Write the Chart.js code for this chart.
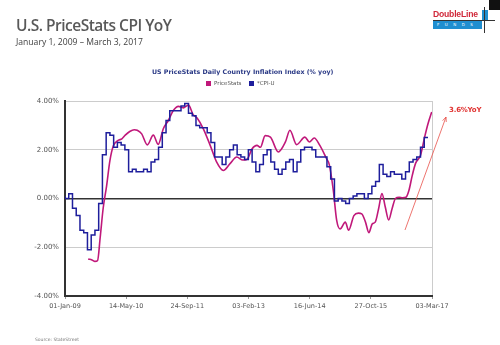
<!DOCTYPE html>
<html>
<head>
<meta charset="utf-8">
<script src="https://cdn.jsdelivr.net/npm/chart.js@4/dist/chart.umd.min.js"></script>
<style>
  body { margin: 0; background: #fff; }
  #wrap { position: relative; width: 500px; height: 345px; overflow: hidden; }
  #c { position: absolute; left: 0; top: 0; }
  .t { position: absolute; white-space: nowrap; }
</style>
</head>
<body>
<div id="wrap">
  <canvas id="c" width="500" height="345"></canvas>
  <div class="t" style="left:16px;top:14px;font:600 15.5px 'Open Sans';color:#595959;letter-spacing:-0.5px">U.S. PriceStats CPI YoY</div>
  <div class="t" style="left:16px;top:36px;font:8.6px 'Open Sans';color:#404040">January 1, 2009 – March 3, 2017</div>
  <div class="t" style="left:152px;top:68px;font:bold 6.3px 'DejaVu Sans';color:#2b3a86">US PriceStats Daily Country Inflation Index (% yoy)</div>
  <div class="t" style="left:206px;top:81px;width:5px;height:5px;background:#c0187a"></div>
  <div class="t" style="left:214px;top:80px;font:5.5px 'DejaVu Sans';color:#555">PriceStats</div>
  <div class="t" style="left:249px;top:81px;width:5px;height:5px;background:#1e1e9c"></div>
  <div class="t" style="left:257px;top:80px;font:5.5px 'DejaVu Sans';color:#555">*CPI-U</div>
  <div class="t" style="left:449px;top:106px;font:bold 7px 'DejaVu Sans';color:#e0312f;letter-spacing:-0.2px">3.6%YoY</div>
  <div class="t" style="left:35px;top:337px;font:4.5px 'DejaVu Sans';color:#777">Source: StateStreet</div>
  <!-- logo -->
  <div class="t" style="left:433px;top:9px;font:bold 8.6px 'Liberation Sans';color:#d0283a;letter-spacing:-0.2px">DoubleLine</div>
  <div class="t" style="left:433px;top:21px;width:49px;height:8px;background:#1f8ed0"></div>
  <div class="t" style="left:437px;top:22px;font:4px 'DejaVu Sans';color:#fff;letter-spacing:5.5px">FUNDS</div>
  <div class="t" style="left:482px;top:10px;width:6px;height:10px;background:#1f8ed0"></div>
  <div class="t" style="left:484px;top:7px;width:1px;height:26px;background:#333"></div>
  <div class="t" style="left:433px;top:20px;width:62px;height:1px;background:#333"></div>
  <div class="t" style="left:489px;top:0px;width:11px;height:10px;background:#111"></div>
</div>
<script>
// x unit: months since 01-Jan-09
const xTickLabels = ["01-Jan-09", "14-May-10", "24-Sep-11", "03-Feb-13", "16-Jun-14", "27-Oct-15", "03-Mar-17"];
const xMax = 98.07;

// CPI-U yoy, monthly Dec-08 .. Jan-17
const cpiValues = [
  0.1,
  0.0, 0.2, -0.4, -0.7, -1.3, -1.4, -2.1, -1.5, -1.3, -0.2, 1.8, 2.7,
  2.6, 2.1, 2.3, 2.2, 2.0, 1.1, 1.2, 1.1, 1.1, 1.2, 1.1, 1.5,
  1.6, 2.1, 2.7, 3.2, 3.6, 3.6, 3.6, 3.8, 3.9, 3.5, 3.4, 3.0,
  2.9, 2.9, 2.7, 2.3, 1.7, 1.7, 1.4, 1.7, 2.0, 2.2, 1.8, 1.7,
  1.6, 2.0, 1.5, 1.1, 1.4, 1.8, 2.0, 1.5, 1.2, 1.0, 1.2, 1.5,
  1.6, 1.1, 1.5, 2.0, 2.1, 2.1, 2.0, 1.7, 1.7, 1.7, 1.3, 0.8,
  -0.1, 0.0, -0.1, -0.2, 0.0, 0.1, 0.2, 0.2, 0.0, 0.2, 0.5, 0.7,
  1.4, 1.0, 0.9, 1.1, 1.0, 1.0, 0.8, 1.1, 1.5, 1.6, 1.7, 2.1,
  2.5
];

// PriceStats daily index
const psX = [6.2, 7.2, 8.0, 8.7, 9.4, 10.2, 11.1, 12.0, 12.9, 14.2, 15.2, 16.1, 17.3, 18.5, 19.3, 20.5, 22.0, 23.6, 24.9, 26.3,
  27.6, 28.9, 30.3, 31.6, 33.0, 34.2, 35.3, 37.0, 38.8, 40.5, 42.3, 44.1, 45.9, 47.5, 48.6, 50.0, 51.3, 52.2, 53.5, 54.9,
  57.0, 58.9, 60.1, 61.9, 64.1, 65.3, 66.6, 68.1, 69.9, 70.6, 71.7, 72.6, 73.5, 74.9, 75.8, 77.2, 78.4, 79.3, 80.3, 81.2,
  82.1, 82.9, 83.8, 84.7, 85.6, 86.5, 87.4, 88.3, 89.3, 90.2, 91.1, 91.9, 92.8, 93.7, 95.0, 96.1, 97.0, 98.0];
const psY = [-2.48, -2.52, -2.58, -2.55, -1.6, -0.4, 0.5, 1.55, 2.15, 2.38, 2.45, 2.6, 2.75, 2.82, 2.8, 2.65, 2.2, 2.6, 2.22, 2.87,
  3.2, 3.6, 3.78, 3.72, 3.83, 3.45, 3.3, 2.85, 2.18, 1.5, 1.15, 1.43, 1.7, 1.58, 1.6, 2.04, 2.18, 2.1, 2.58, 2.52,
  1.91, 2.32, 2.8, 2.21, 2.52, 2.32, 2.48, 2.18, 1.63, 1.4, 0.33, -0.9, -1.25, -0.97, -1.3, -0.7, -0.6, -0.63, -0.97, -1.4,
  -1.04, -0.97, -0.42, 0.2, -0.36, -0.88, -0.42, 0.0, 0.05, 0.03, 0.05, 0.33, 0.95, 1.45, 1.77, 2.52, 3.07, 3.55];

const yTicks = [-4, -2, 0, 2, 4];

const arrowPlugin = {
  id: "arrow",
  afterDraw(chart) {
    const ctx = chart.ctx;
    const x0 = 405, y0 = 230, x1 = 446, y1 = 117;
    ctx.save();
    ctx.strokeStyle = "#e8504a";
    ctx.lineWidth = 0.8;
    ctx.beginPath();
    ctx.moveTo(x0, y0);
    ctx.lineTo(x1, y1);
    ctx.stroke();
    const a = Math.atan2(y1 - y0, x1 - x0);
    ctx.beginPath();
    ctx.moveTo(x1, y1);
    ctx.lineTo(x1 - 5 * Math.cos(a - 0.4), y1 - 5 * Math.sin(a - 0.4));
    ctx.moveTo(x1, y1);
    ctx.lineTo(x1 - 5 * Math.cos(a + 0.4), y1 - 5 * Math.sin(a + 0.4));
    ctx.stroke();
    ctx.restore();
  }
};

new Chart(document.getElementById("c"), {
  type: "line",
  data: {
    datasets: [
      {
        label: "*CPI-U",
        data: cpiValues.map((v, i) => ({ x: i, y: v })),
        borderColor: "#1e1e9c",
        borderWidth: 1.5,
        stepped: "after",
        pointRadius: 0,
        fill: false,
      },
      {
        label: "PriceStats",
        data: psX.map((x, i) => ({ x: x, y: psY[i] })),
        borderColor: "#c0187a",
        borderWidth: 1.6,
        tension: 0.4,
        cubicInterpolationMode: "monotone",
        pointRadius: 0,
        fill: false,
      },
    ],
  },
  options: {
    responsive: false,
    animation: false,
    layout: { padding: { left: 0, top: 101, right: 68, bottom: 0 } },
    plugins: { legend: { display: false }, tooltip: { enabled: false } },
    scales: {
      x: {
        type: "linear",
        min: 0,
        max: xMax,
        afterBuildTicks: (s) => { s.ticks = xTickLabels.map((l, i) => ({ value: i * xMax / 6 })); },
        afterFit: (s) => { s.height = 49; },
        ticks: {
          callback: (v, i) => xTickLabels[i],
          font: { family: "DejaVu Sans", size: 6.5 },
          color: "#555",
          maxRotation: 0,
          padding: 3,
        },
        grid: {
          color: (c) => (c.index === xTickLabels.length - 1 ? "#ccc" : "rgba(0,0,0,0)"),
          tickColor: "#999",
          tickLength: 3,
        },
        border: { color: "#333", width: 2 },
      },
      y: {
        min: -4,
        max: 4,
        afterBuildTicks: (s) => { s.ticks = yTicks.map((v) => ({ value: v })); },
        afterFit: (s) => { s.width = 65; },
        ticks: {
          callback: (v) => v.toFixed(2) + "%",
          font: { family: "DejaVu Sans", size: 7 },
          color: "#555",
          padding: 6,
        },
        grid: {
          color: (c) => (c.tick && c.tick.value === 0 ? "#333" : "#ccc"),
          lineWidth: (c) => (c.tick && c.tick.value === 0 ? 1.5 : 1),
          drawTicks: false,
        },
        border: { color: "#333", width: 2 },
      },
    },
  },
  plugins: [arrowPlugin],
});
</script>
</body>
</html>
